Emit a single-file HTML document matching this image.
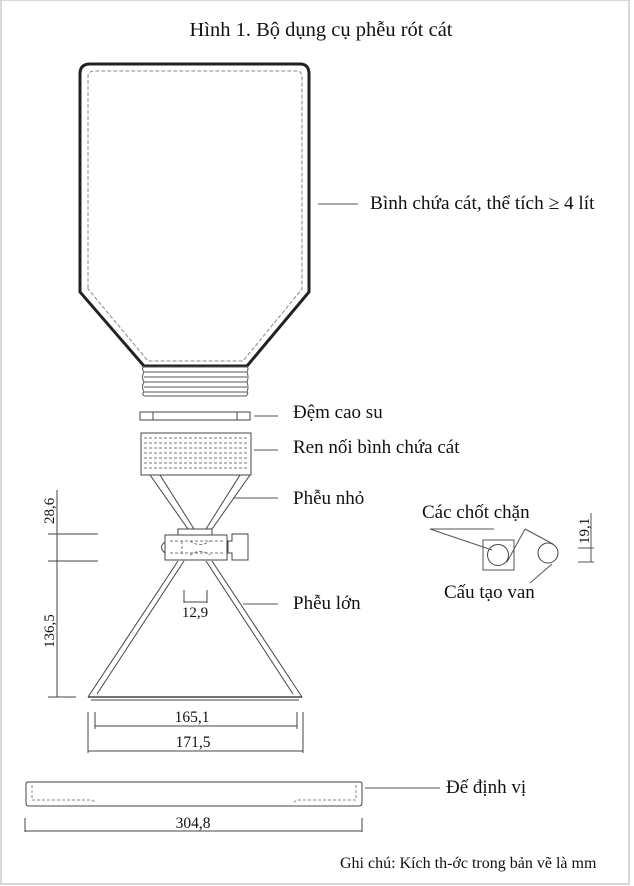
<!DOCTYPE html>
<html><head><meta charset="utf-8"><style>
html,body{margin:0;padding:0;background:#fff}
svg{display:block}
text{font-family:"Liberation Serif",serif;fill:#111}
</style></head><body>
<svg width="634" height="886" viewBox="0 0 634 886" xmlns="http://www.w3.org/2000/svg">
<rect x="1" y="0" width="628" height="884" fill="none" stroke="#ccc" stroke-width="1.5"/>
<text x="321" y="36" font-size="20.5" text-anchor="middle">Hình 1. Bộ dụng cụ phễu rót cát</text>

<!-- bottle -->
<path d="M80,290 L80,74 Q80,64 90,64 L300,64 Q309,64 309,74 L309,292 L247,366 L144,366 L80,292 Z" fill="none" stroke="#222" stroke-width="3"/>
<path d="M88,288 L88,76 Q88,71 95,71 L297,71 Q302,71 302,78 L302,289 L243,361 L148,361 L88,289 Z" fill="none" stroke="#888" stroke-width="1" stroke-dasharray="4,2"/>
<g stroke="#555" stroke-width="1" fill="none">
<path d="M144,367 H247 M144,372 H247 M144,377 H247 M144,382 H247 M144,387 H247 M144,392 H247"/>
<path d="M144,366 Q141,369 144,372 Q141,377 144,382 Q141,387 144,392 Q141,395 145,396 H246 Q249,393 247,392 Q249,387 247,382 Q249,377 247,372 Q249,369 247,366"/>
</g>
<line x1="318" y1="204" x2="358" y2="204" stroke="#555"/>
<text x="370" y="209" font-size="19.3">Bình chứa cát, thể tích ≥ 4 lít</text>

<!-- gasket -->
<rect x="140" y="412" width="110" height="8" fill="none" stroke="#444"/>
<line x1="153" y1="412" x2="153" y2="420" stroke="#444"/><line x1="237" y1="412" x2="237" y2="420" stroke="#444"/>
<line x1="254" y1="416" x2="278" y2="416" stroke="#555"/>
<text x="293" y="418" font-size="19">Đệm cao su</text>

<!-- thread connector -->
<rect x="141" y="433" width="110" height="42" fill="none" stroke="#444"/>
<g stroke="#777" stroke-dasharray="3,2" fill="none">
<path d="M144,438 H248 M144,443 H248 M144,448 H248 M144,453 H248 M144,458 H248 M144,463 H248 M144,468 H248"/>
</g>
<line x1="254" y1="450" x2="278" y2="450" stroke="#555"/>
<text x="293" y="453" font-size="19">Ren nối bình chứa cát</text>

<!-- funnels -->
<g stroke="#444" fill="none">
<path d="M150,475 L188,529 M160,475 L194,529 M250,475 L212,529 M240,475 L206,529"/>
<path d="M178,561 L88,697 M184,561 L97,694 M212,561 L302,697 M206,561 L293,694"/>
<line x1="88" y1="697" x2="302" y2="697" stroke-width="1.5"/>
<line x1="91" y1="700" x2="299" y2="700"/>
<rect x="178" y="529" width="34" height="6"/>
<rect x="165" y="535" width="62" height="25"/>
<path d="M165,542 Q158,547 165,553"/>
<path d="M232,534 H248 V560 H232 V553 H228 V541 H232 Z"/>
</g>
<g stroke="#777" stroke-dasharray="3,2" fill="none">
<path d="M170,541 H225 M170,553 H225 M182,541 V555 M190,541 Q200,548 210,541 M190,555 Q200,548 210,555"/>
</g>
<line x1="234" y1="498" x2="278" y2="498" stroke="#555"/>
<text x="293" y="504" font-size="19">Phễu nhỏ</text>
<line x1="243" y1="604" x2="278" y2="604" stroke="#555"/>
<text x="293" y="609" font-size="19">Phễu lớn</text>

<!-- left dims -->
<g stroke="#444" fill="none">
<line x1="57" y1="490" x2="57" y2="697"/>
<line x1="48" y1="534" x2="98" y2="534"/>
<line x1="48" y1="561" x2="98" y2="561"/>
<line x1="48" y1="697" x2="76" y2="697"/>
<line x1="184" y1="590" x2="184" y2="603"/>
<line x1="207" y1="590" x2="207" y2="603"/>
<line x1="184" y1="602" x2="207" y2="602"/>
</g>
<text font-size="15" transform="translate(54,524) rotate(-90)">28,6</text>
<text font-size="15" transform="translate(54,648) rotate(-90)">136,5</text>
<text x="195" y="617" font-size="15" text-anchor="middle">12,9</text>

<!-- bottom dims -->
<g stroke="#444" fill="none">
<line x1="95" y1="712" x2="95" y2="729"/><line x1="297" y1="712" x2="297" y2="729"/>
<line x1="95" y1="726" x2="297" y2="726"/>
<line x1="88" y1="712" x2="88" y2="753"/><line x1="303" y1="712" x2="303" y2="753"/>
<line x1="88" y1="751" x2="303" y2="751"/>
<line x1="25" y1="818" x2="25" y2="832"/><line x1="362" y1="818" x2="362" y2="832"/>
<line x1="25" y1="831" x2="362" y2="831"/>
</g>
<text x="192" y="722" font-size="15.5" text-anchor="middle">165,1</text>
<text x="193" y="747" font-size="15.5" text-anchor="middle">171,5</text>
<text x="193" y="828" font-size="15.5" text-anchor="middle">304,8</text>

<!-- base -->
<path d="M28,782 H360 Q362,782 362,784 V803 Q362,806 359,806 H29 Q26,806 26,803 V784 Q26,782 28,782 Z" fill="none" stroke="#444"/>
<path d="M32,785 V800 H92 L96,803 M356,785 V800 H297 L293,803" fill="none" stroke="#888" stroke-dasharray="3,2"/>
<line x1="365" y1="788" x2="440" y2="788" stroke="#555"/>
<text x="446" y="793" font-size="19">Đế định vị</text>

<!-- valve detail -->
<rect x="483" y="540" width="31" height="30" fill="none" stroke="#555"/>
<circle cx="498" cy="555" r="10.5" fill="none" stroke="#444"/>
<circle cx="548" cy="553" r="10" fill="none" stroke="#444"/>
<g stroke="#555" fill="none">
<path d="M430,529 H494 M430,529 L492,550"/>
<path d="M525,529 L507,562 M525,529 L553,544"/>
<path d="M530,583 L552,564"/>
<line x1="591" y1="513" x2="591" y2="562"/>
<line x1="578" y1="548" x2="594" y2="548"/>
<line x1="578" y1="562" x2="594" y2="562"/>
</g>
<text x="422" y="518" font-size="19">Các chốt chặn</text>
<text x="444" y="598" font-size="19">Cấu tạo van</text>
<text font-size="15" transform="translate(589,544) rotate(-90)">19,1</text>

<text x="340" y="868" font-size="16">Ghi chú: Kích th-ớc trong bản vẽ là mm</text>
</svg>
</body></html>
